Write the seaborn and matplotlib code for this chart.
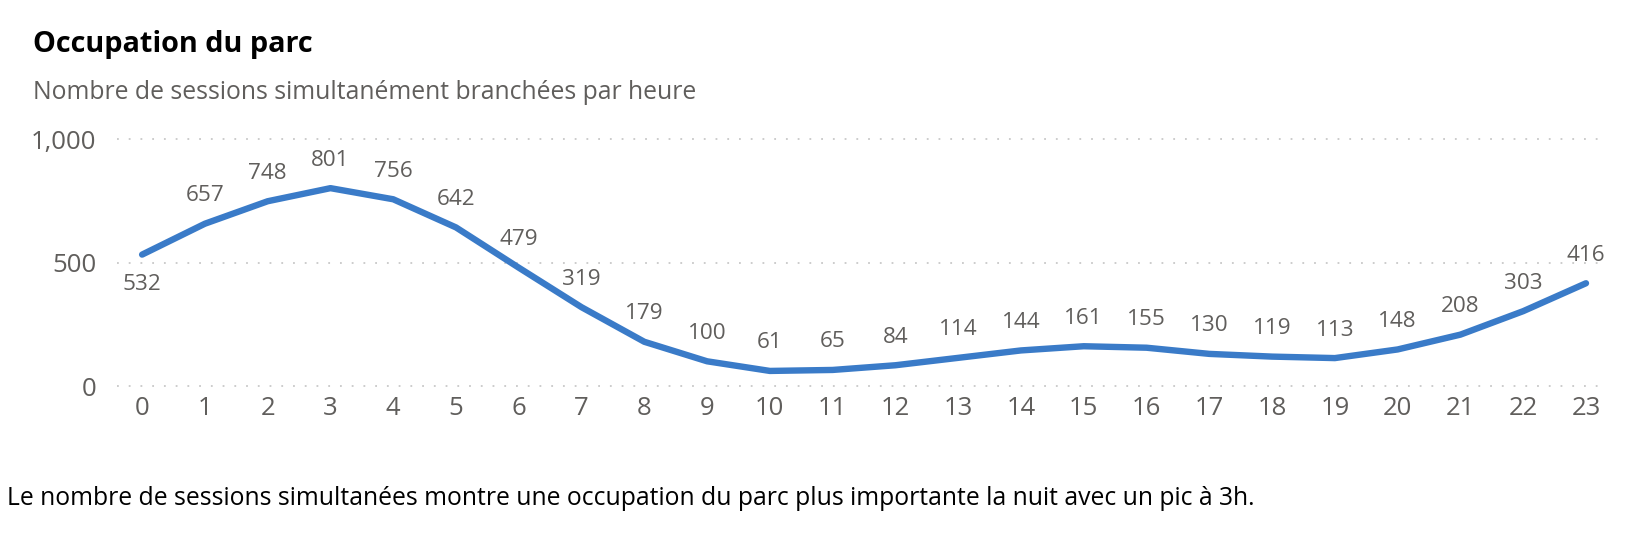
import matplotlib
matplotlib.use("Agg")
import matplotlib.pyplot as plt
import seaborn as sns
import pandas as pd

hours = list(range(24))
sessions = [532, 657, 748, 801, 756, 642, 479, 319, 179, 100, 61, 65, 84, 114,
            144, 161, 155, 130, 119, 113, 148, 208, 303, 416]
label_below = [True] + [False] * 23
y_ticks = [0, 500, 1000]
y_tick_labels = ["0", "500", "1,000"]

title = "Occupation du parc"
subtitle = "Nombre de sessions simultanément branchées par heure"
footnote = ("Le nombre de sessions simultanées montre une occupation du parc plus "
            "importante la nuit avec un pic à 3h.")

sns.set_theme(style="white")
plt.rcParams['font.family'] = ['Open Sans', 'DejaVu Sans']

df = pd.DataFrame({"hour": hours, "sessions": sessions})

W, H = 1640, 541
fig = plt.figure(figsize=(W / 100, H / 100), dpi=100)
ax = fig.add_axes([117 / W, 1 - 386 / H, (1602 - 117) / W, (386 - 139) / H])

line_color = "#3A7BC8"
text_gray = "#605E5C"

sns.lineplot(data=df, x="hour", y="sessions", ax=ax, color=line_color,
             linewidth=4.6, solid_capstyle="round", solid_joinstyle="round",
             clip_on=False)

ax.set_xlim(-0.4, 23.255)
ax.set_ylim(0, 1000)
ax.set_xticks(hours)
ax.set_xticklabels([str(h) for h in hours])
ax.set_yticks(y_ticks)
ax.set_yticklabels(y_tick_labels)
ax.set_xlabel("")
ax.set_ylabel("")
for s in ax.spines.values():
    s.set_visible(False)
ax.tick_params(axis="both", length=0, labelsize=18.5, labelcolor=text_gray)
ax.tick_params(axis="y", pad=15)
ax.tick_params(axis="x", pad=7)

for yv in y_ticks:
    ax.axhline(yv, color="#C8C8C8", linewidth=1.3, linestyle=(0, (1, 5.5)),
               zorder=0, clip_on=False)

for h, v, below in zip(hours, sessions, label_below):
    off = -30 if below else 28
    ax.annotate(str(v), (h, v), xytext=(0, off * 0.72), textcoords="offset points",
                ha="center", va="center", fontsize=16.2, color=text_gray,
                annotation_clip=False)

fig.text(33 / W, 1 - 52 / H, title, fontsize=20.8, fontweight="bold",
         color="#000000", ha="left", va="baseline")
fig.text(33 / W, 1 - 99 / H, subtitle, fontsize=17.8, color=text_gray,
         ha="left", va="baseline")
fig.text(7 / W, 1 - 505 / H, footnote, fontsize=17.8, color="#000000",
         ha="left", va="baseline")

fig.savefig("out.png", dpi=100, facecolor="white")
